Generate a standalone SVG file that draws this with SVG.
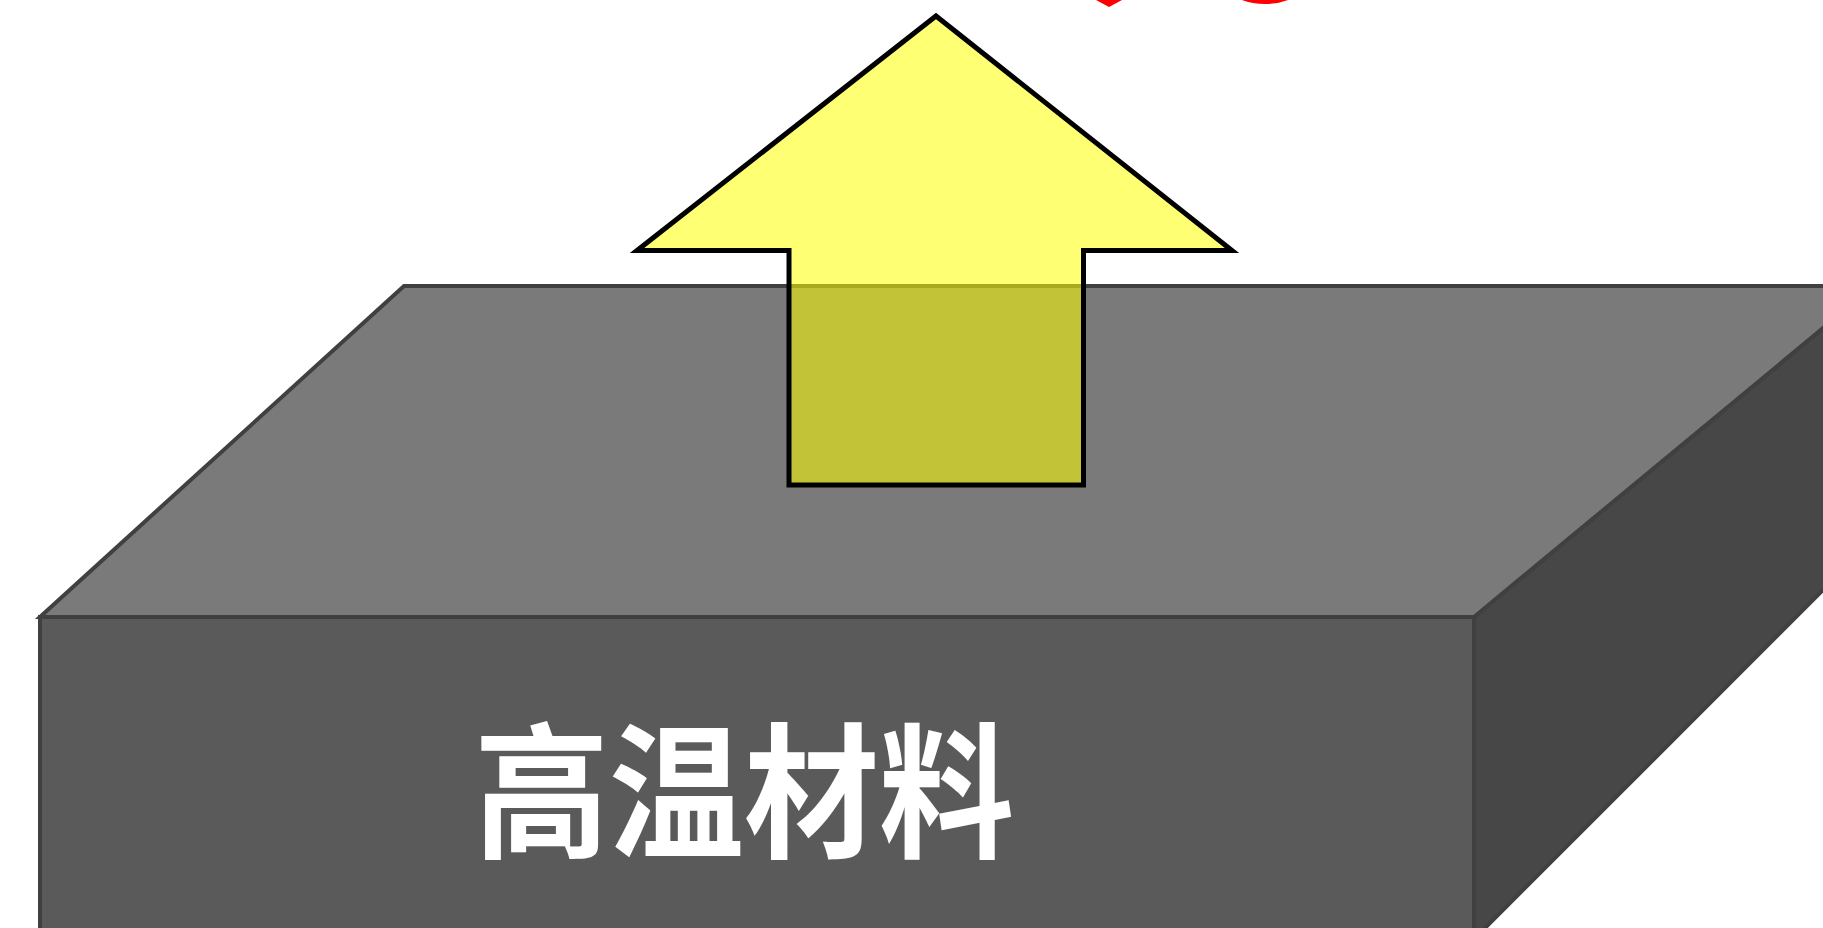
<svg xmlns="http://www.w3.org/2000/svg" width="1823" height="928" viewBox="0 0 1823 928">
  <style>
    .face { stroke: #404040; stroke-width: 4; stroke-linejoin: miter; }
    .label { font-family: "Noto Sans CJK SC", "Noto Sans", sans-serif; fill: #ffffff; font-size: 146px; font-weight: 700; }
  </style>
  <rect width="1823" height="928" fill="#ffffff"/>
  <g id="red-shapes">
    <polygon points="1096,0 1109,7 1122,0" fill="#ff0000"/>
    <circle cx="1265" cy="-62" r="64" fill="none" stroke="#ff0000" stroke-width="4"/>
  </g>
  <g id="block">
    <polygon class="face" points="40,617 1474,617 1474,960 40,960" fill="#5a5a5a"/>
    <polygon class="face" points="1474,617 1874,286 1874,539 1474,939" fill="#474747"/>
    <polygon class="face" points="40,617 404,286 1874,286 1474,617" fill="#7a7a7a"/>
    <text class="label" x="474" y="846" textLength="540" lengthAdjust="spacingAndGlyphs">高温材料</text>
  </g>
  <g id="arrow">
    <polygon points="936,16 1232,250.5 1083.5,250.5 1083.5,485 789,485 789,250.5 637,250.5" fill="#ffff00" fill-opacity="0.55" stroke="#000000" stroke-width="5" stroke-linejoin="miter"/>
  </g>
</svg>
